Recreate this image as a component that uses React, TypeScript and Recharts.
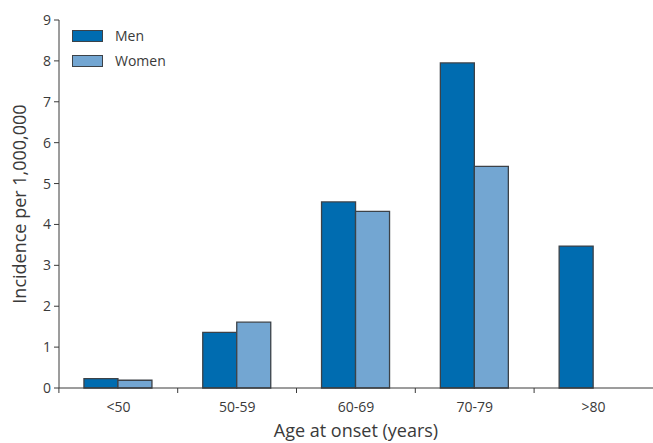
import { BarChart, Bar, XAxis, YAxis, Legend } from 'recharts'

const ageGroups = ['<50', '50-59', '60-69', '70-79', '>80']
const menIncidence = [0.23, 1.36, 4.55, 7.95, 3.47]
const womenIncidence: (number | null)[] = [0.19, 1.61, 4.32, 5.42, null]
const yTicks = [0, 1, 2, 3, 4, 5, 6, 7, 8, 9]

const data = ageGroups.map((age, i) => ({
  age,
  men: menIncidence[i],
  women: womenIncidence[i],
}))

const MEN = '#006cb0'
const WOMEN = '#73a6d2'
const EDGE = '#3c4248'
const INK = '#3a3a3a'
const FONT = '"Open Sans", "DejaVu Sans", sans-serif'

// plot runs from x=59 to x=654, five bands
const BAND = (654 - 59) / ageGroups.length
const TICK_SIZE = 5
const TICK_MARGIN = 12

function AgeTick(props: any) {
  const { x, y, payload } = props
  const axisY = y - TICK_SIZE - TICK_MARGIN
  const edge = x - BAND / 2
  return (
    <g>
      <line x1={edge} y1={axisY} x2={edge} y2={axisY + TICK_SIZE} stroke={INK} strokeWidth={1} />
      <text x={x} y={y} dy={7} textAnchor="middle" fill={INK} fontSize={14} fontFamily={FONT}>
        {payload.value}
      </text>
    </g>
  )
}

function LegendBox() {
  const items = [
    { label: 'Men', color: MEN },
    { label: 'Women', color: WOMEN },
  ]
  return (
    <div style={{ fontFamily: FONT, fontSize: 14, color: INK }}>
      {items.map((it) => (
        <div key={it.label} style={{ display: 'flex', alignItems: 'center', height: 25 }}>
          <span
            style={{
              display: 'inline-block',
              width: 29,
              height: 10,
              background: it.color,
              border: `1px solid ${EDGE}`,
              marginRight: 12,
            }}
          />
          <span>{it.label}</span>
        </div>
      ))}
    </div>
  )
}

export default function App() {
  return (
    <div style={{ position: 'absolute', left: 0, top: 0, width: 653, height: 443, background: '#fff' }}>
      <BarChart
        width={653}
        height={443}
        data={data}
        margin={{ top: 20, right: 0, left: 0, bottom: 0 }}
        barCategoryGap="21%"
        barGap={0}
      >
        <XAxis
          dataKey="age"
          height={55}
          axisLine={{ stroke: INK }}
          tickLine={false}
          tickSize={TICK_SIZE}
          tickMargin={TICK_MARGIN}
          tick={<AgeTick />}
          interval={0}
          label={{
            value: 'Age at onset (years)',
            position: 'insideBottom',
            offset: 6,
            fill: INK,
            fontSize: 18,
            fontFamily: FONT,
          }}
        />
        <YAxis
          width={59}
          domain={[0, 9]}
          ticks={yTicks}
          interval={0}
          axisLine={{ stroke: INK }}
          tickLine={{ stroke: INK }}
          tickSize={5}
          tickMargin={3}
          tick={{ fill: INK, fontSize: 14, fontFamily: FONT }}
          label={{
            value: 'Incidence per 1,000,000',
            angle: -90,
            position: 'insideLeft',
            offset: 20,
            style: { textAnchor: 'middle' },
            fill: INK,
            fontSize: 18,
            fontFamily: FONT,
          }}
        />
        <Legend
          layout="vertical"
          align="center"
          verticalAlign="middle"
          content={<LegendBox />}
          wrapperStyle={{ position: 'absolute', top: 23, left: 72, width: 'auto' }}
        />
        <Bar dataKey="men" name="Men" fill={MEN} stroke={EDGE} strokeWidth={1.3} isAnimationActive={false} />
        <Bar dataKey="women" name="Women" fill={WOMEN} stroke={EDGE} strokeWidth={1.3} isAnimationActive={false} />
      </BarChart>
    </div>
  )
}
